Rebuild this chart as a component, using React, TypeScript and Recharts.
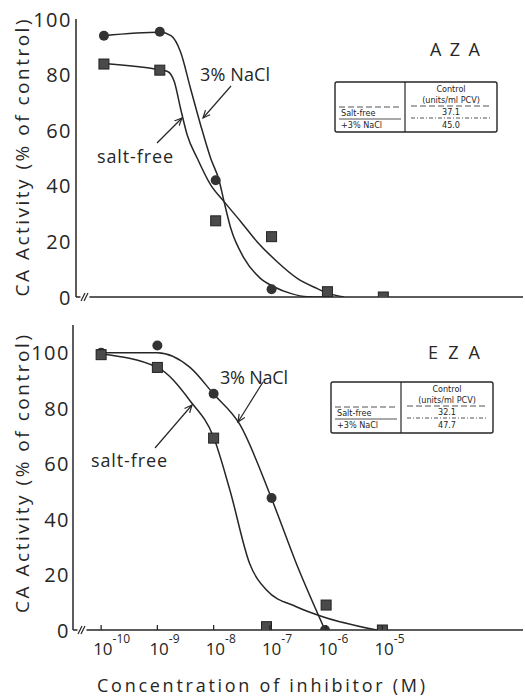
import { ComposedChart, Line, Scatter, XAxis, YAxis, ReferenceLine } from 'recharts';

const ink = '#262626';
const font = '"Open Sans", "DejaVu Sans", sans-serif';
const small = '"Liberation Sans Narrow", "DejaVu Sans Condensed", "DejaVu Sans", sans-serif';

// log10 of inhibitor concentration (M)
const decades = [-10, -9, -8, -7, -6, -5];
const yTicks = [0, 20, 40, 60, 80, 100];

// AZA - measured points
const azaNaclPts = [
  { x: -10, y: 94 }, { x: -9, y: 95.4 }, { x: -8, y: 42 }, { x: -7, y: 2.8 }, { x: -6, y: 0 },
];
const azaFreePts = [
  { x: -10, y: 83.8 }, { x: -9, y: 81.6 }, { x: -8, y: 27.4 }, { x: -7, y: 21.7 }, { x: -6, y: 1.9 }, { x: -5, y: 0 },
];
// AZA - hand drawn curves
const azaNaclCurve = [
  { x: -10, y: 94 }, { x: -9, y: 95.2 }, { x: -8.8, y: 94 }, { x: -8.63, y: 88.2 }, { x: -8.45, y: 75 },
  { x: -8.27, y: 61.9 }, { x: -8.09, y: 49.9 }, { x: -7.94, y: 42 }, { x: -7.85, y: 34.3 }, { x: -7.73, y: 24.7 },
  { x: -7.49, y: 13.9 }, { x: -7.2, y: 6.7 }, { x: -6.96, y: 3.7 }, { x: -6.66, y: 1.3 }, { x: -6.36, y: 0.1 }, { x: -6, y: 0 },
];
const azaFreeCurve = [
  { x: -10, y: 84 }, { x: -9, y: 81.7 }, { x: -8.86, y: 81.1 }, { x: -8.74, y: 77.4 }, { x: -8.63, y: 67.9 },
  { x: -8.51, y: 58.3 }, { x: -8.33, y: 49.9 }, { x: -8.09, y: 40.3 }, { x: -7.85, y: 34.3 }, { x: -7.55, y: 27.1 },
  { x: -7.26, y: 19.9 }, { x: -6.9, y: 12.7 }, { x: -6.54, y: 6.7 }, { x: -6.19, y: 3.1 }, { x: -5.98, y: 1.3 }, { x: -5.7, y: 0 },
];

// EZA - measured points
const ezaNaclPts = [
  { x: -10, y: 100 }, { x: -9, y: 102.6 }, { x: -8, y: 85.2 }, { x: -6.97, y: 47.6 }, { x: -6.02, y: 0 },
];
const ezaFreePts = [
  { x: -10, y: 99.3 }, { x: -9, y: 94.7 }, { x: -8, y: 69.2 }, { x: -7.06, y: 1.2 }, { x: -6, y: 9 }, { x: -5, y: 0 },
];
// EZA - hand drawn curves
const ezaNaclCurve = [
  { x: -10, y: 100 }, { x: -9, y: 100 }, { x: -8.42, y: 94.7 }, { x: -8, y: 85.1 }, { x: -7.54, y: 74.3 },
  { x: -6.97, y: 47.4 }, { x: -6.53, y: 24 }, { x: -6.02, y: 0 },
];
const ezaFreeCurve = [
  { x: -10, y: 99.5 }, { x: -9, y: 94.7 }, { x: -8.42, y: 82.7 }, { x: -8, y: 69.5 }, { x: -7.71, y: 50.4 },
  { x: -7.36, y: 24 }, { x: -7.06, y: 14.4 }, { x: -6.53, y: 8.4 }, { x: -6.06, y: 4.8 }, { x: -5.1, y: 0 },
];

const CircleMark = (p: any) => <circle cx={p.cx} cy={p.cy} r={5} fill="#333" />;
const SquareMark = (p: any) => (
  <rect x={p.cx - 5} y={p.cy - 5} width={10} height={10} fill="#4a4a4a" stroke="#222" strokeWidth={1} />
);

function YTick({ x, y, payload }: any) {
  return (
    <text x={x} y={y} textAnchor="end" dominantBaseline="central" fontSize={20} fontFamily={font} fill={ink} letterSpacing={1.5}>
      {payload.value}
    </text>
  );
}

function DecadeTick({ x, y, payload, labelled }: any) {
  return (
    <g>
      <line x1={x} y1={y} x2={x} y2={y - 5} stroke={ink} strokeWidth={1.3} />
      {labelled && (
        <text x={x - 8} y={y + 25} fontSize={17} fontFamily={font} fill={ink}>
          10<tspan dy={-12} fontSize={12}>{payload.value}</tspan>
        </text>
      )}
    </g>
  );
}

const TopTick = ({ x, y }: any) => <line x1={x} y1={y} x2={x} y2={y + 5} stroke={ink} strokeWidth={1.3} />;
const RightTick = ({ x, y }: any) => <line x1={x} y1={y} x2={x - 5} y2={y} stroke={ink} strokeWidth={1.3} />;

function Panel({ height, top, bottom, axisWidth, yMax, labelled, nacl, free, naclCurve, freeCurve }: any) {
  const xDomain = [-10.5, -2.5];
  return (
    <ComposedChart width={525} height={height} margin={{ top, right: 2, bottom, left: 0 }}>
      <XAxis
        dataKey="x" type="number" domain={xDomain} ticks={decades} interval={0} allowDataOverflow
        axisLine={false} tickLine={false} tickSize={0} tickMargin={0} height={labelled ? 30 : 0}
        tick={(p: any) => <DecadeTick {...p} labelled={labelled} />}
      />
      <XAxis
        xAxisId="t" orientation="top" dataKey="x" type="number" domain={xDomain} ticks={decades} interval={0}
        allowDataOverflow height={0} tickLine={false} tickSize={0} tickMargin={0}
        axisLine={{ stroke: ink, strokeWidth: 1.5 }} tick={TopTick}
      />
      <YAxis
        dataKey="y" type="number" domain={[0, yMax]} ticks={yTicks} interval={0} allowDataOverflow width={axisWidth}
        tickLine={false} tickSize={0} tickMargin={labelled ? 3 : 4} axisLine={{ stroke: ink, strokeWidth: 1.5 }} tick={YTick}
      />
      <YAxis
        yAxisId="r" orientation="right" dataKey="y" type="number" domain={[0, yMax]} ticks={yTicks} interval={0}
        allowDataOverflow width={0} tickLine={false} tickSize={0} tickMargin={0}
        axisLine={{ stroke: ink, strokeWidth: 1.5 }} tick={RightTick}
      />
      <ReferenceLine segment={[{ x: -10.5, y: 0 }, { x: -10.42, y: 0 }]} stroke={ink} strokeWidth={1.5} ifOverflow="visible" />
      <ReferenceLine segment={[{ x: -10.26, y: 0 }, { x: -2.5, y: 0 }]} stroke={ink} strokeWidth={1.5} ifOverflow="visible" />
      <Line data={naclCurve} dataKey="y" type="monotone" stroke={ink} strokeWidth={1.5} dot={false} isAnimationActive={false} />
      <Line data={freeCurve} dataKey="y" type="monotone" stroke={ink} strokeWidth={1.5} dot={false} isAnimationActive={false} />
      <Scatter data={nacl} dataKey="y" shape={CircleMark} isAnimationActive={false} />
      <Scatter data={free} dataKey="y" shape={SquareMark} isAnimationActive={false} />
    </ComposedChart>
  );
}

function ControlTable({ x, y, w, h, split, free, nacl }: any) {
  const cx = (split + x + w) / 2;
  const t = { fontSize: 9, fontFamily: small, fill: ink, dominantBaseline: 'central' as const };
  return (
    <g>
      <rect x={x} y={y} width={w} height={h} rx={2} fill="#fff" stroke={ink} strokeWidth={1.4} />
      <line x1={split} y1={y} x2={split} y2={y + h} stroke={ink} strokeWidth={1.2} />
      <text {...t} x={cx} y={y + 7} textAnchor="middle">Control</text>
      <text {...t} x={cx} y={y + 18} textAnchor="middle">(units/ml PCV)</text>
      <line x1={split + 6} y1={y + 24} x2={x + w - 5} y2={y + 24} stroke={ink} strokeDasharray="6 3" strokeWidth={0.8} />
      <text {...t} x={cx} y={y + 30} textAnchor="middle">{free}</text>
      <line x1={split + 6} y1={y + 36} x2={x + w - 5} y2={y + 36} stroke={ink} strokeDasharray="4 2 1 2" strokeWidth={0.8} />
      <text {...t} x={cx} y={y + 43} textAnchor="middle">{nacl}</text>
      <line x1={x + 4} y1={y + 25} x2={split - 4} y2={y + 25} stroke={ink} strokeDasharray="6 3" strokeWidth={0.8} />
      <text {...t} x={x + 6} y={y + 31}>Salt-free</text>
      <line x1={x + 4} y1={y + 37} x2={split - 4} y2={y + 37} stroke={ink} strokeWidth={0.8} />
      <text {...t} x={x + 6} y={y + 43}>+3% NaCl</text>
    </g>
  );
}

export default function App() {
  const txt = { fontFamily: font, fill: ink, dominantBaseline: 'central' as const, lengthAdjust: 'spacing' };
  return (
    <div style={{ position: 'absolute', left: 0, top: 0, width: 525, height: 697, background: '#fff' }}>
      <div style={{ position: 'absolute', left: 0, top: 0 }}>
        <Panel height={310} top={19} bottom={13} axisWidth={76} yMax={100} labelled={false}
          nacl={azaNaclPts} free={azaFreePts} naclCurve={azaNaclCurve} freeCurve={azaFreeCurve} />
      </div>
      <div style={{ position: 'absolute', left: 0, top: 310 }}>
        <Panel height={387} top={15} bottom={37} axisWidth={73} yMax={110} labelled
          nacl={ezaNaclPts} free={ezaFreePts} naclCurve={ezaNaclCurve} freeCurve={ezaFreeCurve} />
      </div>
      <svg width={525} height={697} style={{ position: 'absolute', left: 0, top: 0, pointerEvents: 'none' }}>
        <defs>
          <marker id="tip" viewBox="0 0 10 10" refX="9" refY="5" markerWidth="7" markerHeight="7" orient="auto">
            <path d="M0,1 L9,5 L0,9" fill="none" stroke={ink} strokeWidth={1.4} />
          </marker>
        </defs>
        {/* axis titles */}
        <text {...txt} transform="translate(22,158) rotate(-90)" textAnchor="middle" fontSize={19} textLength={277}>CA Activity (% of control)</text>
        <text {...txt} transform="translate(22,474) rotate(-90)" textAnchor="middle" fontSize={19} textLength={278}>CA Activity (% of control)</text>
        <text {...txt} x={261} y={685} textAnchor="middle" fontSize={18} textLength={328}>Concentration of inhibitor (M)</text>
        {/* axis breaks */}
        <path d="M81,301 L85,293 M84,301 L88,293" stroke={ink} strokeWidth={1.2} fill="none" />
        <path d="M78,634 L82,626 M81,634 L85,626" stroke={ink} strokeWidth={1.2} fill="none" />
        {/* panel names */}
        <text {...txt} x={455} y={49} textAnchor="middle" fontSize={18} textLength={50}>AZA</text>
        <text {...txt} x={454} y={352} textAnchor="middle" fontSize={18} textLength={52}>EZA</text>
        {/* curve labels */}
        <text {...txt} x={235} y={74} textAnchor="middle" fontSize={18} textLength={70}>3% NaCl</text>
        <text {...txt} x={135} y={156} textAnchor="middle" fontSize={18} textLength={76}>salt-free</text>
        <text {...txt} x={254} y={377} textAnchor="middle" fontSize={18} textLength={68}>3% NaCl</text>
        <text {...txt} x={129} y={460} textAnchor="middle" fontSize={18} textLength={76}>salt-free</text>
        <line x1={231} y1={86} x2={203} y2={118} stroke={ink} strokeWidth={1.2} markerEnd="url(#tip)" />
        <line x1={157} y1={143} x2={182} y2={118} stroke={ink} strokeWidth={1.2} markerEnd="url(#tip)" />
        <line x1={263} y1={382} x2={238} y2={422} stroke={ink} strokeWidth={1.2} markerEnd="url(#tip)" />
        <line x1={155} y1={448} x2={192} y2={405} stroke={ink} strokeWidth={1.2} markerEnd="url(#tip)" />
        {/* control activity tables */}
        <ControlTable x={335} y={82} w={162} h={50} split={405} free="37.1" nacl="45.0" />
        <ControlTable x={331} y={382} w={162} h={51} split={401} free="32.1" nacl="47.7" />
      </svg>
    </div>
  );
}
